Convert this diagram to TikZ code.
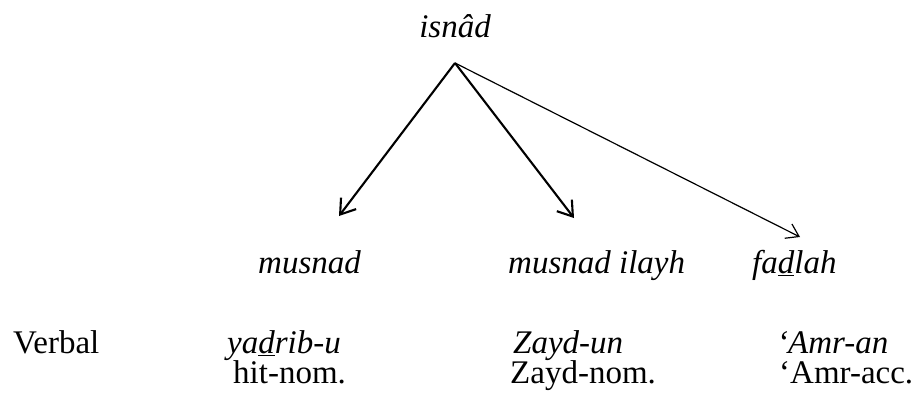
\documentclass[tikz,border=0pt]{standalone}
\usepackage{fontspec}
\setmainfont{Liberation Serif}
\usepackage{tikz}
\usetikzlibrary{arrows.meta, positioning}
\newcommand{\ulet}[1]{\underline{#1}}

\begin{document}
\begin{tikzpicture}[x=1pt, y=1pt,
    term/.style={anchor=base west, inner sep=0pt, font=\fontsize{33}{33}\selectfont\itshape},
    gloss/.style={anchor=base west, inner sep=0pt, font=\fontsize{33}{33}\selectfont},
    branch/.style={line width=2.1pt, -{Straight Barb[length=14pt, width=19pt, line width=2.1pt]}},
    thinbranch/.style={line width=1.2pt, -{Straight Barb[length=12pt, width=16pt, line width=1.2pt]}}]
  \useasboundingbox (0,0) rectangle (918,-399);

  % root and its three daughters
  \node[term, anchor=base] (isnad) at (455,-37) {isnâd};
  \coordinate (apex) at (455,-63);

  \node[term] (musnad) at (258,-273) {musnad};
  \node[term] (ilayh) at (508,-273) {musnad ilayh};
  \node[term] (fadlah) at (752,-273) {fa\ulet{d}lah};

  \coordinate (tipA) at (339,-216);
  \coordinate (tipB) at (574,-218);
  \coordinate (tipC) at (800,-237);

  \draw[branch] (apex) -- (tipA);
  \draw[branch] (apex) -- (tipB);
  \draw[thinbranch] (apex) -- (tipC);

  % example sentence
  \node[gloss] (verbal) at (13,-353) {Verbal};
  \node[term] (yadrib) at (227,-353) {ya\ulet{d}rib-u};
  \node[term] (zaydun) at (513,-353) {Zayd-un};
  \node[term] (amran) at (777,-353) {‘Amr-an};

  \node[gloss] (hitnom) at (233,-383) {hit-nom.};
  \node[gloss] (zaydnom) at (510,-383) {Zayd-nom.};
  \node[gloss] (amracc) at (779,-383) {‘Amr-acc.};
\end{tikzpicture}
\end{document}
